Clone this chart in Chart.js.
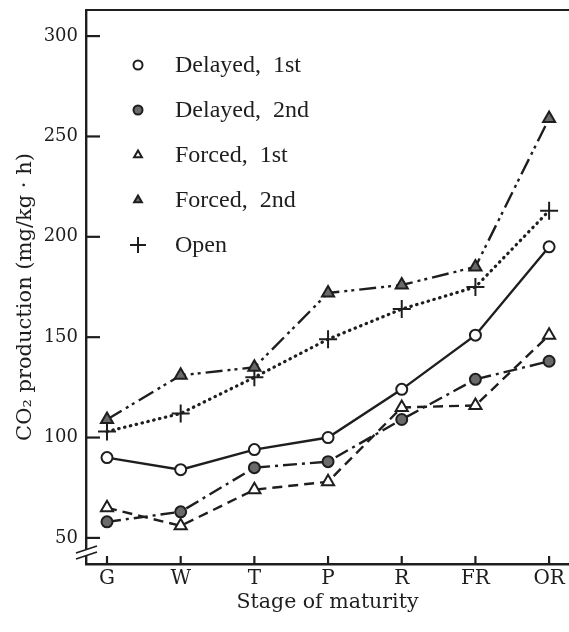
<!DOCTYPE html>
<html>
<head>
<meta charset="utf-8">
<script src="https://cdn.jsdelivr.net/npm/chart.js@4"></script>
<style>
  html, body { margin: 0; padding: 0; background: #fff; }
  #wrap { width: 569px; height: 632px; position: relative; }
</style>
</head>
<body>
<div id="wrap"><canvas id="chart" width="569" height="632"></canvas></div>
<script>
// stages of maturity
const stages = ['G', 'W', 'T', 'P', 'R', 'FR', 'OR'];
const yTickValues = [50, 100, 150, 200, 250, 300];

// CO2 production (mg/kg·h)
const delayed1st = [90, 84, 94, 100, 124, 151, 195];
const delayed2nd = [58, 63, 85, 88, 109, 129, 138];
const forced1st  = [65, 56, 74, 78, 115, 116, 151];
const forced2nd  = [109, 131, 135, 172, 176, 185, 259];
const openField  = [103, 112, 130, 149, 164, 175, 213];

const ink = '#1e1e1e';
const grey = '#6a6a6a';
const serif = '"DejaVu Serif", "Liberation Serif", serif';
const times = '"Liberation Serif", "DejaVu Serif", serif';

function toPoints(values) {
    return values.map((v, i) => ({ x: i, y: v }));
}

const datasets = [
    { label: 'Delayed,  1st', data: toPoints(delayed1st), borderDash: [],
      pointStyle: 'circle', pointRadius: 5.5, pointBackgroundColor: '#fff' },
    { label: 'Delayed,  2nd', data: toPoints(delayed2nd), borderDash: [14, 5, 3, 5],
      pointStyle: 'circle', pointRadius: 5.5, pointBackgroundColor: grey },
    { label: 'Forced,  1st', data: toPoints(forced1st), borderDash: [10, 6],
      pointStyle: 'triangle', pointRadius: 7, pointBackgroundColor: '#fff' },
    { label: 'Forced,  2nd', data: toPoints(forced2nd), borderDash: [17, 5, 3, 4, 3, 5],
      pointStyle: 'triangle', pointRadius: 7, pointBackgroundColor: grey },
    { label: 'Open', data: toPoints(openField), borderDash: [0.5, 5.5], borderCapStyle: 'round',
      borderWidth: 3.2, pointStyle: 'cross', pointRadius: 9, pointBackgroundColor: ink }
].map(ds => Object.assign({
    borderColor: ink,
    borderWidth: 2.4,
    pointBorderColor: ink,
    pointBorderWidth: 2,
    tension: 0,
    fill: false
}, ds));

// ticks, top border, axis break, legend and y title
const decor = {
    id: 'decor',
    afterDraw(chart) {
        const ctx = chart.ctx;
        const a = chart.chartArea;
        const x = chart.scales.x;
        const y = chart.scales.y;
        ctx.save();
        ctx.strokeStyle = ink;
        ctx.lineWidth = 2.2;
        ctx.setLineDash([]);

        // top frame line
        ctx.beginPath();
        ctx.moveTo(a.left - 1, a.top);
        ctx.lineTo(a.right, a.top);
        ctx.stroke();

        // inner tick marks
        yTickValues.forEach(v => {
            const py = y.getPixelForValue(v);
            ctx.beginPath();
            ctx.moveTo(a.left, py);
            ctx.lineTo(a.left + 14, py);
            ctx.stroke();
        });
        stages.forEach((s, i) => {
            const px = x.getPixelForValue(i);
            ctx.beginPath();
            ctx.moveTo(px, a.bottom);
            ctx.lineTo(px, a.bottom - 8);
            ctx.stroke();
        });

        // axis break
        ctx.fillStyle = '#fff';
        ctx.beginPath();
        ctx.moveTo(76, 553); ctx.lineTo(97, 546); ctx.lineTo(97, 552); ctx.lineTo(76, 559);
        ctx.closePath();
        ctx.fill();
        ctx.lineWidth = 1.8;
        ctx.beginPath();
        ctx.moveTo(76, 553); ctx.lineTo(97, 546);
        ctx.moveTo(76, 559); ctx.lineTo(97, 552);
        ctx.stroke();

        // legend
        ctx.font = '24px ' + times;
        ctx.textBaseline = 'middle';
        ctx.textAlign = 'left';
        chart.data.datasets.forEach((ds, i) => {
            const ly = 65 + i * 45;
            ctx.fillStyle = ds.pointBackgroundColor;
            ctx.strokeStyle = ink;
            ctx.lineWidth = 2;
            Chart.helpers.drawPoint(ctx, {
                pointStyle: ds.pointStyle,
                radius: ds.pointStyle === 'cross' ? 8 : 4.5,
                borderWidth: 2,
                rotation: 0
            }, 138, ly);
            ctx.fillStyle = ink;
            ctx.fillText(ds.label, 175, ly + 1);
        });

        // y axis title
        ctx.translate(26, 297);
        ctx.rotate(-Math.PI / 2);
        ctx.textAlign = 'center';
        ctx.font = '21px ' + serif;
        ctx.fillText('CO\u2082 production (mg/kg \u00B7 h)', 0, 0);
        ctx.restore();
    }
};

new Chart(document.getElementById('chart'), {
    type: 'line',
    data: { datasets: datasets },
    options: {
        responsive: false,
        animation: false,
        layout: { autoPadding: false, padding: { top: 10, right: 0, left: 0, bottom: 0 } },
        plugins: { legend: { display: false }, tooltip: { enabled: false } },
        scales: {
            x: {
                type: 'linear',
                min: -0.285,
                max: 6.27,
                afterFit: s => {
                    s.height = 68;
                    s.paddingLeft = 0;
                    s.paddingRight = 0;
                },
                afterBuildTicks: s => { s.ticks = stages.map((c, i) => ({ value: i })); },
                ticks: {
                    callback: v => stages[v],
                    color: ink,
                    font: { family: serif, size: 20 },
                    padding: 3
                },
                grid: { display: false, drawTicks: false },
                border: { display: true, color: ink, width: 2.4 },
                title: {
                    display: true,
                    text: 'Stage of maturity',
                    color: ink,
                    font: { family: serif, size: 20.5 },
                    padding: { top: 4, bottom: 17 }
                }
            },
            y: {
                min: 37,
                max: 313,
                afterFit: s => {
                    s.width = 86;
                    s.paddingTop = 0;
                    s.paddingBottom = 0;
                },
                afterBuildTicks: s => { s.ticks = yTickValues.map(v => ({ value: v })); },
                ticks: {
                    color: ink,
                    font: { family: serif, size: 18 },
                    padding: 8
                },
                grid: { display: false, drawTicks: false },
                border: { display: true, color: ink, width: 2.4 }
            }
        }
    },
    plugins: [decor]
});
</script>
</body>
</html>
